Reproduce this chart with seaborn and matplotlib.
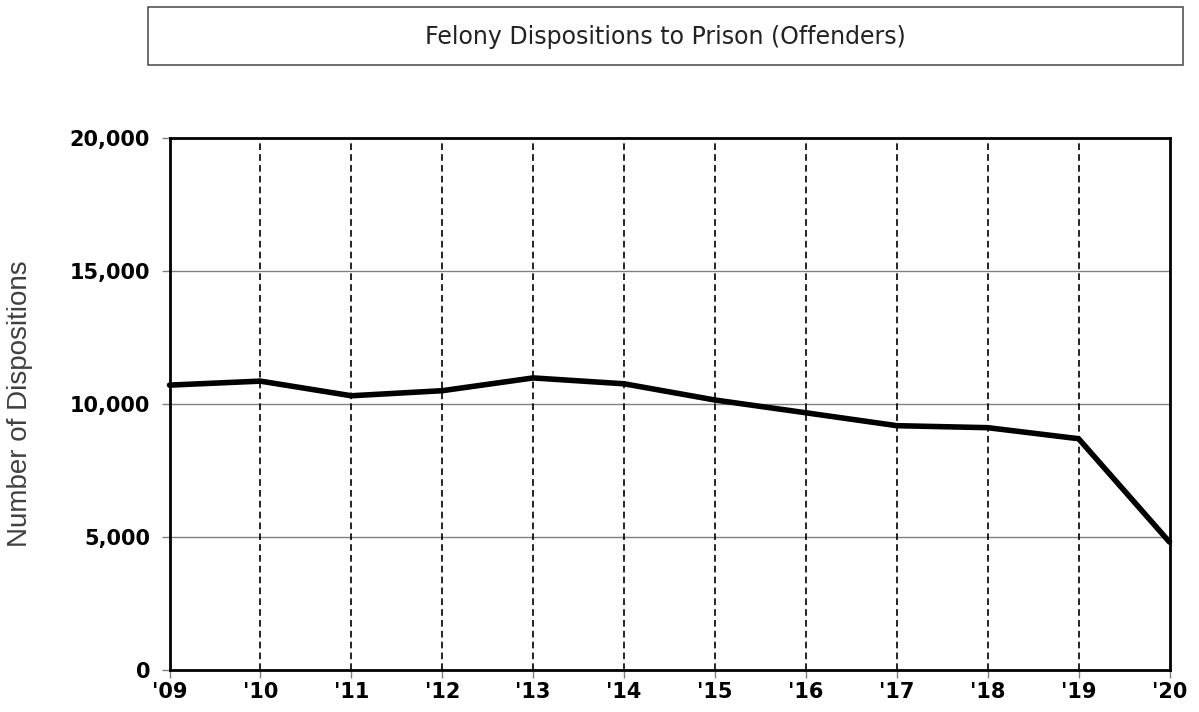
import matplotlib
matplotlib.use("Agg")
import matplotlib.pyplot as plt
import seaborn as sns
import pandas as pd
from matplotlib.patches import Rectangle
from matplotlib.ticker import FuncFormatter

years = ["'09", "'10", "'11", "'12", "'13", "'14", "'15", "'16", "'17", "'18", "'19", "'20"]
dispositions = [10710, 10860, 10310, 10500, 10980, 10760, 10150, 9670, 9185, 9110, 8695, 4810]
y_ticks = [0, 5000, 10000, 15000, 20000]
title = "Felony Dispositions to Prison (Offenders)"
y_label = "Number of Dispositions"

sns.set_theme(style="white")
plt.rcParams['font.family'] = ['DejaVu Sans']

df = pd.DataFrame({"idx": range(len(years)), "value": dispositions})

fig = plt.figure(figsize=(11.99, 7.12), dpi=100)
W, H = 1199, 712
ax = fig.add_axes([169.5 / W, 1 - 670 / H, 1000 / W, 532 / H])

# grid lines
for yv in y_ticks[1:-1]:
    ax.axhline(yv, color="#808080", lw=1.0, zorder=1)
for i in range(1, len(years) - 1):
    ax.axvline(i, color="black", lw=1.2, ls=(0, (4, 2.5)), zorder=1)

sns.lineplot(data=df, x="idx", y="value", ax=ax, color="black", lw=4,
             zorder=3, clip_on=False)

ax.set_xlim(0, len(years) - 1)
ax.set_ylim(0, 20000)
ax.set_xticks(range(len(years)))
ax.set_xticklabels(years)
ax.set_yticks(y_ticks)
ax.yaxis.set_major_formatter(FuncFormatter(lambda v, p: f"{int(v):,}"))
for lab in ax.get_xticklabels() + ax.get_yticklabels():
    lab.set_fontweight("bold")
    lab.set_fontsize(15)
    lab.set_color("black")
ax.tick_params(axis="both", which="both", direction="out", length=6, width=1,
               color="#808080", left=True, bottom=True)
ax.tick_params(axis="x", pad=3)
ax.tick_params(axis="y", pad=8)
ax.set_xlabel("")
ax.set_ylabel(y_label, fontsize=20, color="#404040", family="Liberation Sans")
ax.yaxis.set_label_coords(-0.1365, 0.5)
for s in ax.spines.values():
    s.set_visible(True)
    s.set_color("black")
    s.set_linewidth(2)

# title box
rect = Rectangle((148 / W, 1 - 65 / H), (1183 - 148) / W, (65 - 7) / H,
                 transform=fig.transFigure, fill=False, edgecolor="#555555", lw=1.2)
fig.patches.append(rect)
fig.text((148 + 1183) / 2 / W, 1 - 37 / H, title, ha="center", va="center",
         fontsize=17, color="#222222")

fig.savefig("out.png", dpi=100)
